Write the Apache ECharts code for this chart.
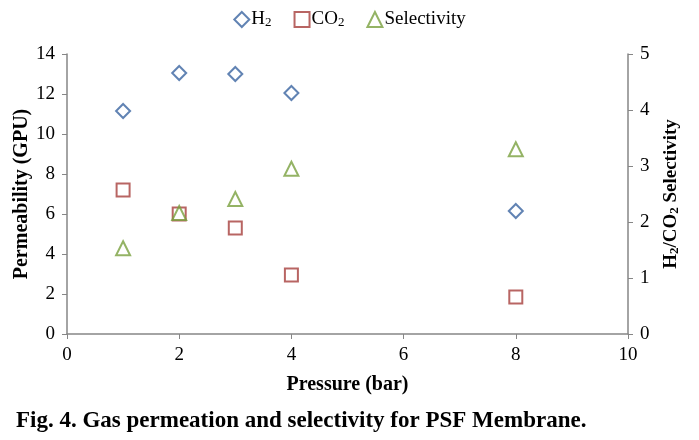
<!DOCTYPE html>
<html><head><meta charset="utf-8">
<script src="https://cdn.jsdelivr.net/npm/echarts@6/dist/echarts.min.js"></script>
<style>html,body{margin:0;padding:0;background:#fff}#c{width:699px;height:440px}</style>
</head><body><div id="c"></div>
<script>
const pressure = [1, 2, 3, 4, 8];
const h2 = [11.15, 13.05, 13.0, 12.05, 6.15];
const co2 = [7.2, 6.0, 5.3, 2.95, 1.85];
const selectivity = [1.53, 2.16, 2.41, 2.95, 3.3];
const xTicks = [0, 2, 4, 6, 8, 10];

const font = 'Liberation Serif';
const chart = echarts.init(document.getElementById('c'));
const pair = (xs, ys) => xs.map((x, i) => [x, ys[i]]);
chart.setOption({
  animation: false,
  textStyle: { fontFamily: font },
  grid: { left: 67, right: 71, top: 54, bottom: 106, containLabel: false, outerBoundsMode: 'none' },
  legend: {
    top: 5, left: 'center', itemGap: 22, itemWidth: 15, itemHeight: 15,
    textStyle: { fontFamily: font, fontSize: 19, color: '#000', padding: [0, 0, 0, -3],
      rich: { s: { fontSize: 13, padding: [7, 0, 0, 0], fontFamily: font } } },
    formatter: n => n === 'H2' ? 'H{s|2}' : n === 'CO2' ? 'CO{s|2}' : n,
    data: ['H2', 'CO2', 'Selectivity']
  },
  title: {
    text: 'Fig. 4. Gas permeation and selectivity for PSF Membrane.',
    left: 11, top: 405,
    textStyle: { fontFamily: font, fontSize: 23, fontWeight: 'bold', color: '#000' }
  },
  xAxis: {
    type: 'value', min: 0, max: 10, interval: 2,
    name: 'Pressure (bar)', nameLocation: 'middle', nameGap: 41, nameMoveOverlap: false,
    nameTextStyle: { fontFamily: font, fontSize: 20, fontWeight: 'bold', color: '#000' },
    axisLine: { lineStyle: { color: '#868686', width: 1.5 } },
    axisTick: { show: true, length: 5, lineStyle: { color: '#868686' } },
    axisLabel: { fontFamily: font, fontSize: 19, color: '#000', margin: 12,
      formatter: v => xTicks.includes(v) ? String(v) : '' },
    splitLine: { show: false }
  },
  yAxis: [{
    type: 'value', min: 0, max: 14, interval: 2,
    name: 'Permeability (GPU)', nameLocation: 'middle', nameGap: 35, nameRotate: 90, nameMoveOverlap: false,
    nameTextStyle: { fontFamily: font, fontSize: 20, fontWeight: 'bold', color: '#000' },
    axisLine: { show: true, lineStyle: { color: '#868686', width: 1.5 } },
    axisTick: { show: true, length: 5, lineStyle: { color: '#868686' } },
    axisLabel: { fontFamily: font, fontSize: 19, color: '#000', margin: 12 },
    splitLine: { show: false }
  }, {
    type: 'value', min: 0, max: 5, interval: 1, position: 'right',
    name: 'H{s|2}/CO{s|2} Selectivity', nameLocation: 'middle', nameGap: 33, nameRotate: 90, nameMoveOverlap: false,
    nameTextStyle: { fontFamily: font, fontSize: 19, fontWeight: 'bold', color: '#000',
      rich: { s: { fontSize: 13, fontWeight: 'bold', padding: [7, 0, 0, 0], fontFamily: font } } },
    axisLine: { show: true, lineStyle: { color: '#868686', width: 1.5 } },
    axisTick: { show: true, length: 5, lineStyle: { color: '#868686' } },
    axisLabel: { fontFamily: font, fontSize: 19, color: '#000', margin: 12 },
    splitLine: { show: false }
  }],
  series: [{
    name: 'H2', type: 'scatter', symbol: 'diamond', symbolSize: 14,
    itemStyle: { color: '#fff', borderColor: '#3A64A0', borderWidth: 2 },
    data: pair(pressure, h2)
  }, {
    name: 'CO2', type: 'scatter', symbol: 'rect', symbolSize: 13,
    itemStyle: { color: 'rgba(0,0,0,0)', borderColor: '#A63E3C', borderWidth: 2 },
    data: pair(pressure, co2)
  }, {
    name: 'Selectivity', type: 'scatter', symbol: 'triangle', symbolSize: 14, yAxisIndex: 1,
    itemStyle: { color: 'rgba(0,0,0,0)', borderColor: '#79A03E', borderWidth: 2 },
    data: pair(pressure, selectivity)
  }]
});
</script></body></html>
